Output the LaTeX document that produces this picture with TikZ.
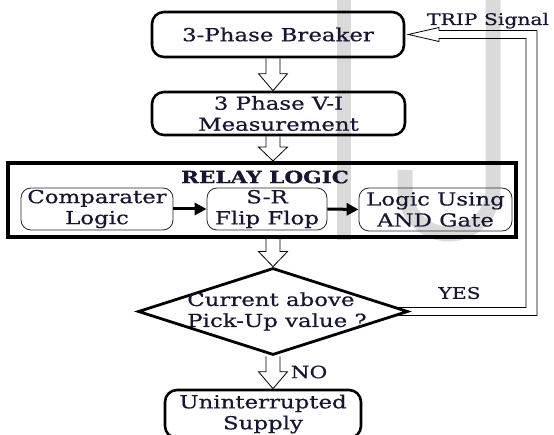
\documentclass[tikz,border=0pt]{standalone}
\usepackage{fontspec}
\newfontfamily\dfont{DejaVu Serif}[FakeStretch=1.27, FakeBold=0.6]
\usetikzlibrary{shapes.geometric,arrows.meta,calc}
\definecolor{ink}{RGB}{22,22,48}
\definecolor{wmark}{RGB}{218,218,218}

\tikzset{
  every node/.style={text=ink},
  lbl/.style={font=\dfont\fontsize{18}{21}\selectfont, align=center, inner sep=0pt},
  smalllbl/.style={font=\dfont\fontsize{16}{18}\selectfont, inner sep=0pt},
  mainbox/.style={lbl, draw=black, line width=2.6pt, rounded corners=12pt},
  subbox/.style={lbl, draw=black!85, line width=0.8pt, rounded corners=10pt},
  groupbox/.style={draw=black, line width=4pt, inner sep=0pt},
  decision/.style={diamond, draw=black, line width=2.8pt, inner sep=0pt},
  hollow/.style={draw=black, line width=0.8pt, line join=miter},
  solidarrow/.style={draw=black, line width=3pt, -{Triangle[length=12pt,width=12pt]}},
}

% open block arrow pointing down between two nodes:
% #1 = x of the arrow axis, #2 = upper node, #3 = lower node, #4 = head length
\newcommand\blockdown[4]{%
  \draw[hollow] let \p1=(#2.south), \p2=(#3.north) in
    (#1pt-7pt,\y1) -- (#1pt-7pt,\y2+#4pt) -- (#1pt-14.5pt,\y2+#4pt)
    -- (#1pt,\y2) -- (#1pt+14.5pt,\y2+#4pt) -- (#1pt+7pt,\y2+#4pt)
    -- (#1pt+7pt,\y1);}

\begin{document}
\begin{tikzpicture}[x=1pt,y=1pt]
\useasboundingbox (0,0) rectangle (554,434);

% faint background lettering
\fill[wmark] (337,434) rectangle (351,194);
\draw[wmark, line width=15pt] (493,434) -- (493,244) arc[start angle=0,end angle=-180,radius=44] -- (405,264);

% main column
\node[mainbox, minimum width=252, minimum height=45] (brk) at (278,399.5) {3-Phase Breaker};
\node[mainbox, minimum width=253, minimum height=43] (vi) at (278.5,320.5) {3 Phase V-I\\Measurement};

\node[groupbox, minimum width=508, minimum height=74, fill=none] (relay) at (262,234) {};
\node[font=\dfont\bfseries\fontsize{17}{20}\selectfont, inner sep=0pt] (rtitle) at (265,257) {RELAY LOGIC};
\node[subbox, minimum width=152, minimum height=42] (cmp) at (97,225) {Comparater\\Logic};
\node[subbox, minimum width=120, minimum height=42] (sr) at (267,225) {S-R\\Flip Flop};
\node[subbox, minimum width=153, minimum height=43] (andg) at (435.5,224.5) {Logic Using\\AND Gate};

\node[decision, minimum width=270, minimum height=87] (dec) at (273,122.5) {};
\node[lbl, align=left] (dectext) at (277,122.5) {Current above\\Pick-Up value ?};

\node[mainbox, minimum width=196, minimum height=48] (sup) at (263,20) {Uninterrupted\\Supply};

% flow arrows
\blockdown{273}{brk}{vi}{17}
\blockdown{273}{vi}{relay}{14}
\blockdown{273}{relay}{dec}{15}
\blockdown{273}{dec}{sup}{17}
\draw[solidarrow] (cmp.east) -- (sr.west);
\draw[solidarrow] (sr.east) -- (andg.west);

% trip feedback path
\draw[hollow] let \p1=(dec.east), \p2=(brk.east) in
  (\x1-11pt,\y1-4pt) -- (537pt,\y1-4pt) -- (537pt,\y2+4pt) -- (439pt,\y2+4pt)
  -- (439pt,\y2+7pt) -- (\x2+3pt,\y2) -- (439pt,\y2-7pt) -- (439pt,\y2-4pt)
  -- (526pt,\y2-4pt) -- (526pt,\y1+4pt) -- (\x1-11pt,\y1+4pt);

% labels
\node[smalllbl, anchor=base] (trip) at (488,409) {TRIP Signal};
\node[smalllbl, font=\dfont\fontsize{16}{18}\selectfont] (yes) at (459.5,141) {YES};
\node[smalllbl, font=\dfont\fontsize{17}{18}\selectfont] (no) at (309,62) {NO};
\end{tikzpicture}
\end{document}
